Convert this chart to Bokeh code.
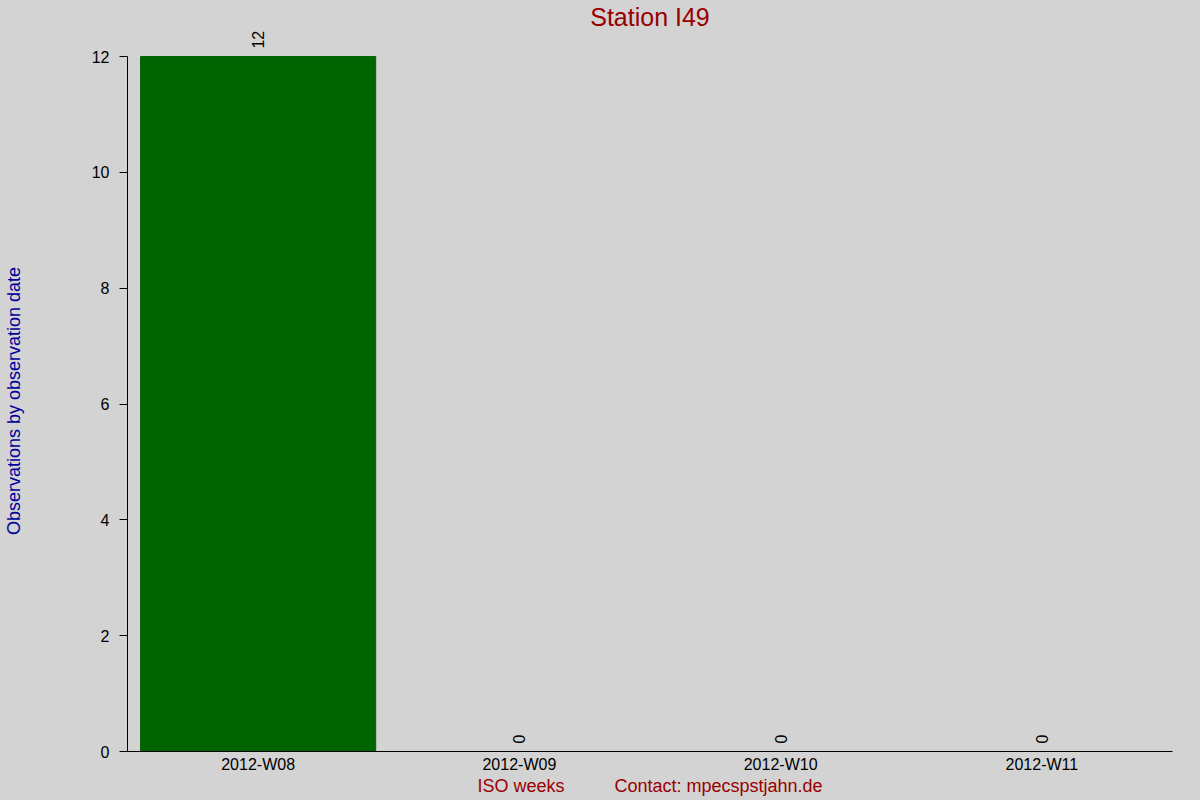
from bokeh.plotting import figure
from bokeh.models import ColumnDataSource, Label, Range1d, FixedTicker
from bokeh.embed import file_html
from bokeh.resources import INLINE
import math

# weekly counts for the station
weeks = ["2012-W08", "2012-W09", "2012-W10", "2012-W11"]
counts = [12, 0, 0, 0]
y_ticks = [0, 2, 4, 6, 8, 10, 12]
y_max = 12

BG = "#d3d3d3"
RED = "#990000"
FONT = "Liberation Sans"
NBSP = "\u00a0"

src = ColumnDataSource(dict(week=weeks, n=counts))

# range runs a bit past 12 so the rotated "12" above the bar isn't clipped;
# the axis line itself is bounded to 0..12
p = figure(x_range=weeks, y_range=Range1d(0, 12.45), width=1200, height=800,
           title="Station I49", toolbar_location=None, tools="",
           output_backend="svg",
           min_border_left=126, min_border_right=28,
           min_border_top=30, min_border_bottom=49)

p.background_fill_color = BG
p.border_fill_color = BG
p.outline_line_color = None
p.grid.grid_line_color = None

p.title.align = "center"
p.title.text_font = FONT
p.title.text_font_size = "25px"
p.title.text_font_style = "normal"
p.title.text_color = RED
p.title.standoff = 0

p.vbar(x="week", top="n", width=0.9, source=src, color="#006400")

# rotated value labels above each bar; factor i sits at synthetic x = i + 0.5
for i, c in enumerate(counts):
    p.add_layout(Label(x=i + 0.5, y=c, text=str(c), angle=math.pi / 2,
                       text_align="left", text_baseline="middle", y_offset=8,
                       text_font=FONT, text_font_size="16px", text_color="black"))

# axes
p.axis.axis_line_color = "black"
p.axis.major_label_text_font = FONT
p.axis.major_label_text_font_size = "16px"
p.axis.major_label_text_color = "black"
p.axis.axis_label_text_font = FONT
p.axis.axis_label_text_font_size = "18px"
p.axis.axis_label_text_font_style = "normal"
p.axis.minor_tick_line_color = None

p.yaxis.ticker = FixedTicker(ticks=y_ticks)
p.yaxis.bounds = (0, y_max)
p.yaxis.major_tick_in = 0
p.yaxis.major_tick_out = 8
p.yaxis.major_label_standoff = 10
# trailing nbsp nudges the label down to the middle of the 0..12 span
p.yaxis.axis_label = "Observations by observation date" + NBSP * 4
p.yaxis.axis_label_text_color = "#000099"
p.yaxis.axis_label_standoff = 65

p.xaxis.major_tick_line_color = None
p.xaxis.major_tick_out = 0
p.xaxis.major_tick_in = 0
p.xaxis.major_label_standoff = 4
p.xaxis.axis_label = "ISO weeks" + NBSP * 10 + "Contact: mpecspstjahn.de"
p.xaxis.axis_label_text_color = RED
p.xaxis.axis_label_standoff = 0

html = file_html(p, INLINE)
html = html.replace("<head>", "<head><style>body{background:%s}</style>" % BG, 1)
open("out.html", "w").write(html)
